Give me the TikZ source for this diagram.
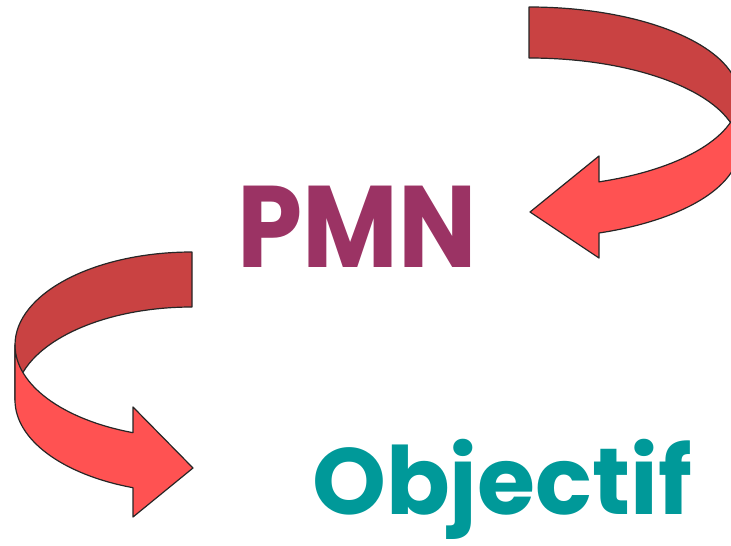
\documentclass[tikz,border=0pt]{standalone}
\usepackage{fontspec}
\setmainfont{Poppins}
\usepackage{tikz}

\definecolor{rougeFonce}{RGB}{201,66,66}
\definecolor{rougeClair}{RGB}{255,82,82}
\definecolor{violet}{RGB}{155,51,100}
\definecolor{sarcelle}{RGB}{0,153,153}

\tikzset{
  dos/.style={fill=rougeFonce, draw=black!85, line width=1.2pt, line join=round},
  face/.style={fill=rougeClair, draw=black!85, line width=1.2pt, line join=round},
  titre/.style={anchor=base west, inner sep=0pt, text depth=20pt}
}

\begin{document}
\begin{tikzpicture}[x=1pt, y=-1pt]
      \useasboundingbox (0,0) rectangle (731,546);
      \clip (0,0) rectangle (731,546);

      %Flèche du haut
      \draw[dos] (529,7) arc[start angle=270, end angle=360, x radius=210, y radius=90]
            -- (739,148) arc[start angle=360, end angle=270, x radius=210, y radius=90] -- cycle;
      \draw[face] (599,182) -- (599,156) -- (530,212) -- (599,258) -- (599,233)
            arc[start angle=70.53, end angle=0, x radius=210, y radius=90]
            -- (739,97) arc[start angle=0, end angle=70.53, x radius=210, y radius=90] -- cycle;

      %Flèche du bas
      \draw[dos] (192,252) arc[start angle=270, end angle=180, x radius=177, y radius=93]
            -- (15,400) arc[start angle=180, end angle=270, x radius=177, y radius=93] -- cycle;
      \draw[face] (15,345) arc[start angle=180, end angle=109.47, x radius=177, y radius=93]
            -- (133,407) -- (193,468) -- (133,517) -- (133,487.7)
            arc[start angle=109.47, end angle=180, x radius=177, y radius=93] -- cycle;

      %Textes
      \node[titre, text=violet, xscale=0.9, font=\bfseries\fontsize{116}{120}\selectfont] (PMN) at (237,267) {PMN};
      \node[titre, text=sarcelle, font=\bfseries\fontsize{94}{100}\selectfont] (Objectif) at (312,514) {Objectif};
\end{tikzpicture}
\end{document}
